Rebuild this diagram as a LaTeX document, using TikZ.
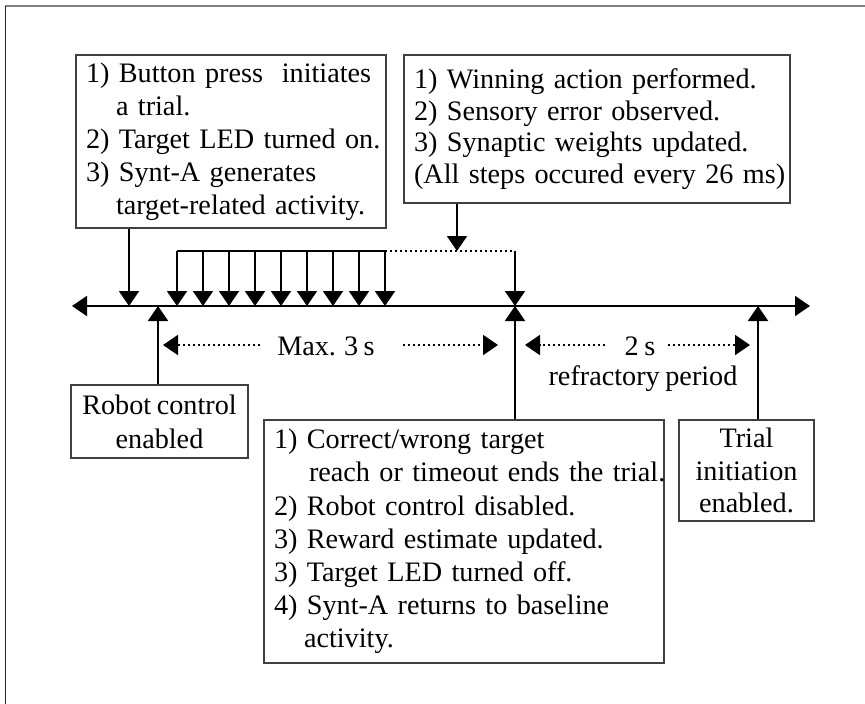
\documentclass[tikz,border=0pt]{standalone}
\usepackage{fontspec}
\setmainfont{Liberation Serif}[WordSpace=0.8]
\usetikzlibrary{arrows.meta}
\hfuzz=30pt
% one unbreakable line of a list box
\newcommand\row[1]{\mbox{#1}}
\begin{document}
\begin{tikzpicture}[x=1pt,y=-1pt,
  txt/.style={font=\fontsize{28.2}{33}\selectfont},
  box/.style={txt, draw=black!75, line width=2pt, fill=white,
    inner xsep=10pt, inner ysep=0pt, anchor=north west},
  listbox/.style={box, align=left},
  centbox/.style={box, align=center},
  tiphead/.style={-{Triangle[width=20pt,length=15pt]}},
  wire/.style={line width=2pt},
  link/.style={wire, tiphead},
  dotline/.style={wire, dash pattern=on 2pt off 3pt},
  gaparrow/.style={dotline, tiphead},
]
% page and frame
\fill[white] (0,0) rectangle (865,704);
\useasboundingbox (0,0) rectangle (865,704);
\draw[black!50, line width=2.5pt] (5,6) -- (865,6);
\draw[black!85, line width=1.2pt] (5.5,6) -- (5.5,704);

% time axis
\coordinate (axL) at (72,306);
\coordinate (axR) at (810,306);
\draw[wire, {Triangle[width=20pt,length=15pt]}-{Triangle[width=20pt,length=15pt]}] (axL) -- (axR);

% event points on the axis
\coordinate (tStart) at (129,306);
\coordinate (tRobot) at (158,306);
\coordinate (tEnd)   at (515,306);
\coordinate (tInit)  at (758,306);

% text boxes
\node[listbox, text width=290pt, minimum width=310pt, minimum height=173pt] (start) at (75,54)
  {\row{1) Button press\ \ initiates}\\
   \row{\hspace*{30pt}a trial.}\\
   \row{2) Target LED turned on.}\\
   \row{3) Synt-A generates}\\
   \row{\hspace*{30pt}target-related activity.}};

\node[listbox, text width=366pt, minimum width=386pt, minimum height=148pt,
      font=\fontsize{28.2}{31.5}\selectfont] (step) at (403,54)
  {\row{1) Winning action performed.}\\
   \row{2) Sensory error observed.}\\
   \row{3) Synaptic weights updated.}\\
   \row{(All steps occured every 26 ms)}};

\node[centbox, minimum width=177pt, minimum height=73pt,
      font=\fontsize{28.2}{34}\selectfont] (robot) at (70,384)
  {Robot control\\ enabled};

\node[listbox, text width=380pt, minimum width=400pt, minimum height=243pt,
      font=\fontsize{28.2}{33.2}\selectfont] (end) at (263,419)
  {\row{1) Correct/wrong target}\\
   \row{\hspace*{35pt}reach or timeout ends the trial.}\\
   \row{2) Robot control disabled.}\\
   \row{3) Reward estimate updated.}\\
   \row{3) Target LED turned off.}\\
   \row{4) Synt-A returns to baseline}\\
   \row{\hspace*{30pt}activity.}};

\node[centbox, minimum width=135pt, minimum height=101pt,
      font=\fontsize{28.2}{32.5}\selectfont] (init) at (678,419)
  {Trial\\ initiation\\ enabled.};

% connectors from boxes to the axis
\draw[link] (start.south -| tStart) -- (tStart);
\draw[link] (robot.north -| tRobot) -- (tRobot);
\draw[link] (end.north -| tEnd) -- (tEnd);
\draw[link] (init.north -| tInit) -- (tInit);

% repeated 26 ms steps
\coordinate (combL) at (177,251);
\coordinate (combM) at (385,251);
\coordinate (combR) at (515,251);
\coordinate (tStep) at (457,251);
\draw[wire] (combL) -- (combM);
\draw[dotline] (combM) -- (combR);
\draw[link] (combR) -- (tEnd);
\foreach \i in {0,...,8}
  \draw[link] (177+26*\i,251) -- (177+26*\i,306);
\draw[link] (step.south -| tStep) -- (tStep);

% durations
\node[txt, anchor=base] (maxlbl) at (326,355) {Max. 3 s};
\coordinate (mL) at (163,345);
\coordinate (mR) at (498,345);
\draw[gaparrow] (260,345) -- (mL);
\draw[gaparrow] (403,345) -- (mR);

\node[txt, anchor=base] (twos) at (640,355) {2 s};
\coordinate (rL) at (525,345);
\coordinate (rR) at (750,345);
\draw[gaparrow] (605,345) -- (rL);
\draw[gaparrow] (668,345) -- (rR);
\node[txt, anchor=base] (refr) at (643,385) {refractory period};
\end{tikzpicture}
\end{document}
